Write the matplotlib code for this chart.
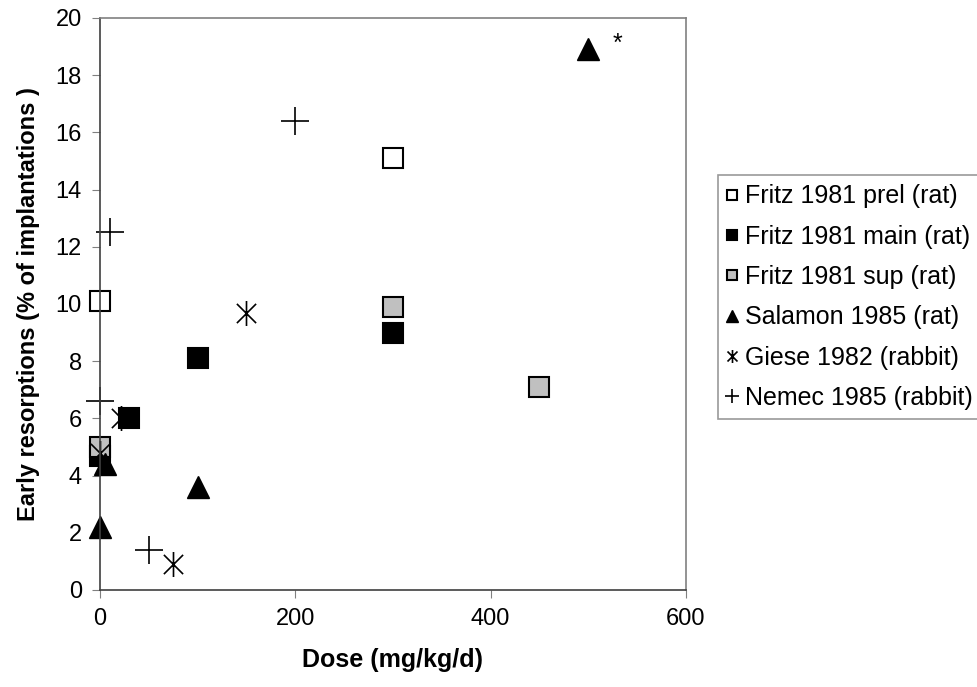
import matplotlib
matplotlib.use("Agg")
import matplotlib.pyplot as plt
from matplotlib.path import Path

plt.rcParams['font.family'] = ['Liberation Sans', 'DejaVu Sans']

# data
prel_x = [0, 300]
prel_y = [10.1, 15.1]
main_x = [0, 30, 100, 300]
main_y = [4.7, 6.0, 8.1, 9.0]
sup_x = [0, 300, 450]
sup_y = [5.0, 9.9, 7.1]
salamon_x = [0, 5, 100, 500]
salamon_y = [2.2, 4.4, 3.6, 18.9]
giese_x = [0, 22, 75, 150]
giese_y = [4.8, 6.0, 0.9, 9.7]
nemec_x = [0, 10, 50, 200]
nemec_y = [6.6, 12.5, 1.4, 16.4]

labels = ["Fritz 1981 prel (rat)", "Fritz 1981 main (rat)", "Fritz 1981 sup (rat)",
          "Salamon 1985 (rat)", "Giese 1982 (rabbit)", "Nemec 1985 (rabbit)"]

# excel style star: X plus vertical bar
star = Path([(-1, -1), (1, 1), (-1, 1), (1, -1), (0, -1.3), (0, 1.3)],
            [Path.MOVETO, Path.LINETO, Path.MOVETO, Path.LINETO, Path.MOVETO, Path.LINETO])

fig = plt.figure(figsize=(9.78, 6.87), dpi=100)
ax = fig.add_axes([0.1022, 0.1412, 0.5992, 0.8326])

kw = dict(linestyle='none', clip_on=False)
ax.plot(prel_x, prel_y, marker='s', ms=14, mfc='white', mec='black', mew=1.5, label=labels[0], **kw)
ax.plot(main_x, main_y, marker='s', ms=14, mfc='black', mec='black', mew=1.5, label=labels[1], **kw)
ax.plot(sup_x, sup_y, marker='s', ms=14, mfc='#c0c0c0', mec='black', mew=1.5, label=labels[2], **kw)
ax.plot(salamon_x, salamon_y, marker='^', ms=16, mfc='black', mec='black', label=labels[3], **kw)
ax.plot(giese_x, giese_y, marker=star, ms=18, mfc='none', mec='black', mew=1.2, label=labels[4], **kw)
ax.plot(nemec_x, nemec_y, marker='+', ms=20, mec='black', mew=1.2, label=labels[5], **kw)

ax.text(530, 19.1, '*', fontsize=18, ha='center', va='center')

ax.set_xlim(0, 600)
ax.set_ylim(0, 20)
ax.set_xticks([0, 200, 400, 600])
ax.set_yticks(range(0, 21, 2))
ax.tick_params(direction='out', length=6, color='#808080', labelsize=17, pad=7)
for s in ax.spines.values():
    s.set_color('#808080')
    s.set_linewidth(1.2)
ax.spines['left'].set_color('#404040')
ax.spines['bottom'].set_color('#404040')

ax.set_xlabel('Dose (mg/kg/d)', fontsize=18, fontweight='bold', labelpad=13)
ax.set_ylabel('Early resorptions (% of implantations )', fontsize=17, fontweight='bold', labelpad=11)

leg = ax.legend(loc='upper left', bbox_to_anchor=(718 / 978, 1 - 175 / 687),
                bbox_transform=fig.transFigure, fontsize=18, markerscale=0.52,
                handlelength=0.35, handletextpad=0.35, borderpad=0.38, labelspacing=0.65,
                frameon=True, fancybox=False, borderaxespad=0)
leg.get_frame().set_edgecolor('#808080')
leg.get_frame().set_linewidth(1.2)

fig.savefig('out.png', dpi=100)
